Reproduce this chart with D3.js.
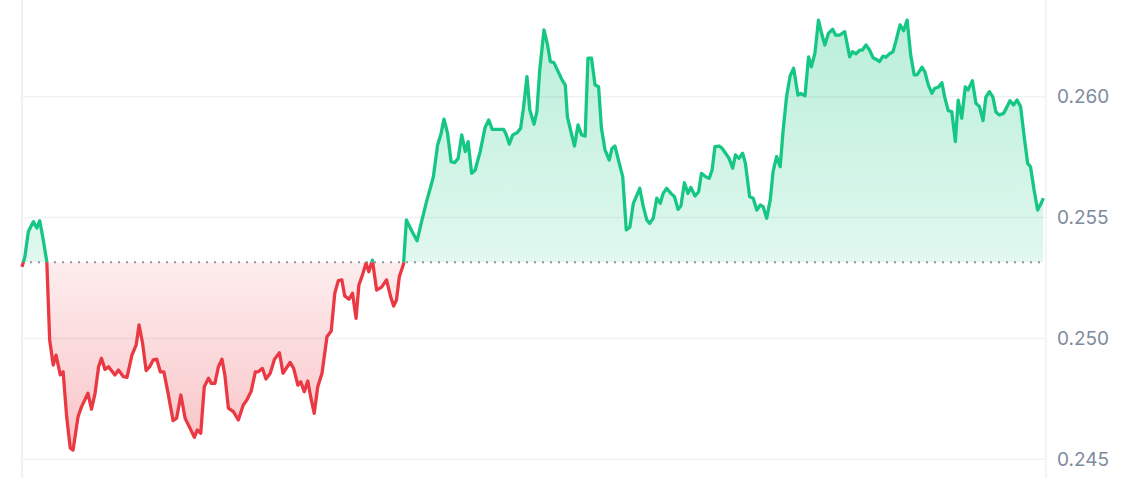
<!DOCTYPE html>
<html><head><meta charset="utf-8">
<script src="https://cdn.jsdelivr.net/npm/d3@7"></script>
<style>html,body{margin:0;padding:0;background:#fff;overflow:hidden} svg{display:block}</style>
</head><body>
<svg id="chart" width="1134" height="478"></svg>
<script>
// minutes since start of the 24h window
const minutes = [0,4,9,16,21,25,30,35,39,44,48,54,58,63,68,72,79,84,93,98,103,108,112,117,122,131,136,143,148,155,161,165,170,175,180,185,190,195,200,206,213,218,224,230,237,243,247,252,257,263,267,272,277,282,286,291,298,305,312,317,323,329,333,339,344,350,356,363,368,378,383,389,393,398,403,407,412,417,423,430,436,441,446,451,455,461,466,471,475,480,485,489,494,500,507,514,520,524,528,532,538,542,550,557,564,571,575,580,586,591,595,600,605,610,615,620,625,629,634,639,646,653,658,663,669,679,683,687,692,698,703,707,712,716,722,726,730,736,741,745,750,755,761,766,769,774,779,784,789,794,798,803,808,813,817,822,828,832,836,841,847,852,857,862,871,876,881,885,890,895,900,904,909,915,920,925,929,934,939,943,949,954,958,964,969,973,977,983,987,992,997,1002,1006,1011,1016,1020,1026,1031,1036,1041,1045,1050,1055,1059,1064,1069,1073,1078,1083,1088,1094,1098,1104,1109,1113,1118,1123,1128,1132,1137,1143,1147,1153,1160,1167,1171,1176,1181,1185,1190,1195,1200,1204,1209,1214,1218,1223,1228,1232,1238,1243,1248,1253,1258,1262,1269,1273,1278,1283,1287,1292,1297,1301,1306,1311,1316,1320,1325,1330,1334,1340,1345,1350,1355,1359,1364,1369,1373,1378,1384,1389,1393,1398,1403,1408,1413,1418,1422,1427,1432,1437,1440];
const prices = [0.25296,0.25337,0.25442,0.25483,0.25457,0.25487,0.25407,0.25317,0.24994,0.2489,0.24931,0.24849,0.24862,0.24676,0.24547,0.24538,0.24676,0.24718,0.24773,0.24707,0.24773,0.24883,0.24918,0.24872,0.24883,0.24849,0.24869,0.24842,0.24839,0.24931,0.24973,0.25056,0.2498,0.24867,0.24883,0.24911,0.24914,0.24862,0.24862,0.24773,0.2466,0.2467,0.24766,0.2467,0.24628,0.24591,0.24621,0.24608,0.248,0.24835,0.24814,0.24814,0.24883,0.24914,0.24849,0.24712,0.24697,0.24663,0.24725,0.24745,0.2478,0.24862,0.24862,0.24876,0.24832,0.24856,0.24914,0.24941,0.24856,0.24901,0.24876,0.24807,0.24821,0.2478,0.24824,0.24759,0.2469,0.248,0.24856,0.25007,0.25031,0.25187,0.25239,0.25242,0.25176,0.25162,0.25187,0.25083,0.25221,0.25262,0.25311,0.25276,0.25324,0.252,0.25212,0.25242,0.2517,0.25134,0.25159,0.25255,0.25308,0.2549,0.25442,0.25404,0.2549,0.25573,0.25614,0.25669,0.258,0.25849,0.25907,0.25849,0.25731,0.25727,0.25745,0.25842,0.25773,0.25814,0.25683,0.25697,0.25773,0.25873,0.25904,0.25865,0.25865,0.25865,0.25842,0.25804,0.25842,0.25851,0.25869,0.25952,0.26083,0.25945,0.25886,0.25938,0.2611,0.26276,0.26214,0.26145,0.26141,0.2611,0.26072,0.26048,0.25917,0.25855,0.25796,0.25883,0.25842,0.25837,0.26159,0.26159,0.26048,0.26041,0.25869,0.2578,0.25738,0.25787,0.25796,0.25738,0.25669,0.25449,0.2546,0.25559,0.25621,0.25545,0.2549,0.25476,0.25497,0.2558,0.25559,0.256,0.25621,0.256,0.25586,0.25534,0.25548,0.25644,0.256,0.25625,0.25589,0.25607,0.25683,0.25669,0.25662,0.25697,0.25793,0.25796,0.25787,0.25766,0.25745,0.25704,0.25759,0.25745,0.25766,0.25724,0.25586,0.2558,0.25531,0.25552,0.25545,0.25497,0.25573,0.2569,0.25752,0.2571,0.25855,0.26,0.26086,0.26118,0.26007,0.26014,0.26003,0.26165,0.26124,0.2618,0.26317,0.26255,0.26214,0.26262,0.26279,0.26255,0.26255,0.26269,0.26165,0.26186,0.26177,0.26193,0.26193,0.26214,0.26193,0.26161,0.26155,0.26145,0.26168,0.26163,0.26177,0.26186,0.26228,0.26297,0.26273,0.26317,0.26173,0.2609,0.2609,0.26122,0.26103,0.26048,0.26014,0.26035,0.26039,0.26058,0.25998,0.25942,0.25938,0.25814,0.25986,0.25911,0.26041,0.26028,0.26066,0.25973,0.25959,0.25901,0.25998,0.26021,0.25998,0.25938,0.25924,0.25931,0.25959,0.25983,0.25966,0.25986,0.25959,0.25835,0.25724,0.2571,0.25614,0.25531,0.25559,0.2558];
const baselinePrice = 0.25315;
const yTickValues = [0.245, 0.250, 0.255, 0.260];

const W = 1134, H = 478;
const plotLeft = 22, plotRight = 1046;
const svg = d3.select("#chart");
const x = d3.scaleLinear().domain([0, 1440]).range([22, 1043.3]);
const y = d3.scaleLinear().domain([0.245, 0.260]).range([459.3, 96.7]);
const data = minutes.map((m, i) => ({m, v: prices[i]}));
const yb = y(baselinePrice);

const defs = svg.append("defs");
const gUp = defs.append("linearGradient").attr("id", "gUp").attr("gradientUnits", "userSpaceOnUse")
  .attr("x1", 0).attr("x2", 0).attr("y1", y(0.2633)).attr("y2", yb);
gUp.append("stop").attr("offset", 0).attr("stop-color", "#16c784").attr("stop-opacity", 0.3);
gUp.append("stop").attr("offset", 1).attr("stop-color", "#16c784").attr("stop-opacity", 0.13);
const gDn = defs.append("linearGradient").attr("id", "gDn").attr("gradientUnits", "userSpaceOnUse")
  .attr("x1", 0).attr("x2", 0).attr("y1", yb).attr("y2", y(0.2453));
gDn.append("stop").attr("offset", 0).attr("stop-color", "#ea3943").attr("stop-opacity", 0.09);
gDn.append("stop").attr("offset", 1).attr("stop-color", "#ea3943").attr("stop-opacity", 0.3);

defs.append("clipPath").attr("id", "clipUp").append("rect")
  .attr("x", 0).attr("y", 0).attr("width", W).attr("height", yb);
defs.append("clipPath").attr("id", "clipDn").append("rect")
  .attr("x", 0).attr("y", yb).attr("width", W).attr("height", H - yb);

// grid
svg.append("g").selectAll("line").data(yTickValues).join("line")
  .attr("x1", plotLeft).attr("x2", plotRight)
  .attr("y1", d => y(d)).attr("y2", d => y(d))
  .attr("stroke", "#eff1f4").attr("stroke-width", 1.5);
svg.append("line").attr("x1", plotLeft).attr("x2", plotLeft).attr("y1", 0).attr("y2", H)
  .attr("stroke", "#eff1f4").attr("stroke-width", 2);
svg.append("line").attr("x1", plotRight).attr("x2", plotRight).attr("y1", 0).attr("y2", H)
  .attr("stroke", "#eff1f4").attr("stroke-width", 1.5);

const area = d3.area().x(d => x(d.m)).y0(yb).y1(d => y(d.v));
const line = d3.line().x(d => x(d.m)).y(d => y(d.v));

svg.append("path").datum(data).attr("d", area).attr("fill", "url(#gUp)").attr("clip-path", "url(#clipUp)");
svg.append("path").datum(data).attr("d", area).attr("fill", "url(#gDn)").attr("clip-path", "url(#clipDn)");

// baseline
svg.append("line").attr("x1", x(0)).attr("x2", x(1440)).attr("y1", yb).attr("y2", yb)
  .attr("stroke", "#8f96a3").attr("stroke-width", 2).attr("stroke-dasharray", "2 6");

svg.append("path").datum(data).attr("d", line).attr("fill", "none").attr("stroke", "#16c784")
  .attr("stroke-width", 3.3).attr("stroke-linejoin", "round").attr("clip-path", "url(#clipUp)");
svg.append("path").datum(data).attr("d", line).attr("fill", "none").attr("stroke", "#ea3943")
  .attr("stroke-width", 3.3).attr("stroke-linejoin", "round").attr("clip-path", "url(#clipDn)");

// axis
const ax = svg.append("g").attr("transform", `translate(${plotRight},0)`)
  .call(d3.axisRight(y).tickValues(yTickValues).tickFormat(d3.format(".3f")).tickSize(0).tickPadding(11));
ax.select(".domain").remove();
ax.selectAll("text").attr("fill", "#808a9d").style("font-family", "Inter, 'Noto Sans', sans-serif").style("font-size", "19px");
</script>
</body></html>
